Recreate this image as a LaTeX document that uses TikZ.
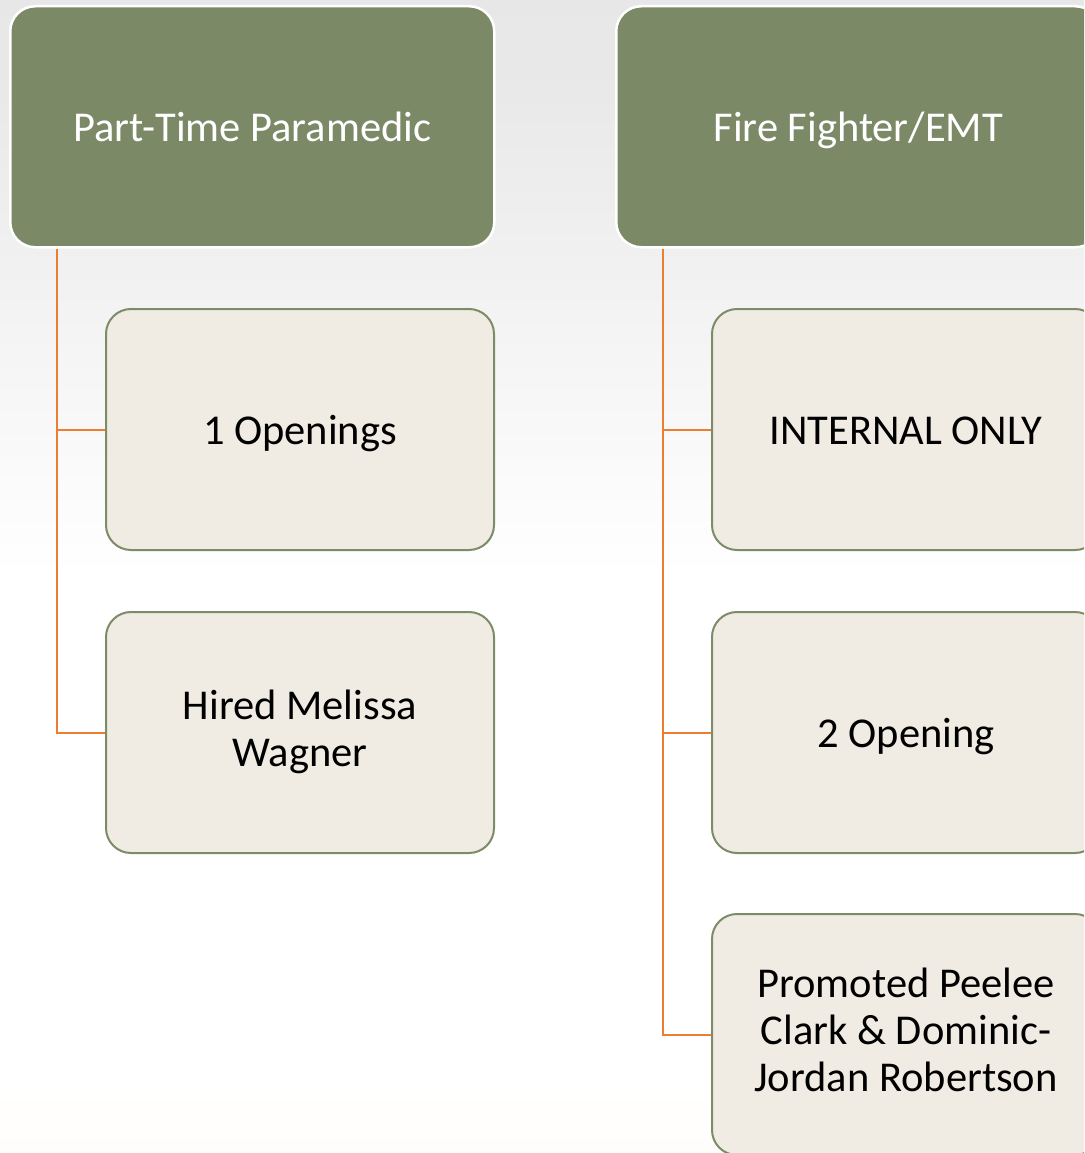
\documentclass[tikz,border=0pt]{standalone}
\usepackage{fontspec}
\setmainfont{Carlito}
\definecolor{hdrgreen}{HTML}{7B8966}
\definecolor{childfill}{HTML}{F1ECE3}
\definecolor{childborder}{HTML}{7C8B68}
\definecolor{connorange}{HTML}{ED7D31}
\definecolor{bgtop}{HTML}{E2E2E2}
\definecolor{bgmid}{HTML}{E8E8E8}
\definecolor{bgwhite}{HTML}{FFFFFF}
\definecolor{bgbottom}{HTML}{FCE8CC}
\pgfdeclareverticalshading{bgshade}{100bp}{%
  color(0bp)=(bgbottom); color(12bp)=(bgwhite!55!bgbottom); color(28bp)=(bgwhite); color(50bp)=(bgwhite); color(72bp)=(bgmid); color(100bp)=(bgtop)}
\newcommand{\mystrut}{\rule[-9pt]{0pt}{47pt}}
\tikzset{
  hdrbox/.style={draw=white, line width=2.5pt, fill=hdrgreen, rounded corners=25pt,
    minimum width=484pt, minimum height=241pt, anchor=north west, inner sep=0pt,
    text=white, font=\fontsize{42.5}{47}\selectfont, align=center,
    execute at begin node=\mystrut, execute at end node=\mystrut},
  childbox/.style={draw=childborder, line width=2pt, fill=childfill, rounded corners=25pt,
    minimum width=388pt, minimum height=241pt, anchor=north west, inner sep=0pt,
    text=black, font=\fontsize{42.5}{47}\selectfont, align=center,
    execute at begin node=\mystrut, execute at end node=\mystrut},
  conn/.style={draw=connorange, line width=2pt}
}
\begin{document}
\begin{tikzpicture}[x=1pt,y=-1pt]
\useasboundingbox (0,0) rectangle (1084,1153);
\clip (0,0) rectangle (1084,1153);
\shade[shading=bgshade] (0,0) rectangle (1084,1153);
% headers
\node[hdrbox] (hL) at (9,5) {Part-Time Paramedic};
\node[hdrbox] (hR) at (615,5) {Fire Fighter/EMT};
% children left
\node[childbox] (l1) at (105,308) {1 Openings};
\node[childbox] (l2) at (105,611) {Hired Melissa\\Wagner};
% children right
\node[childbox] (r1) at (711,308) {INTERNAL ONLY};
\node[childbox] (r2) at (711,611) {2 Opening};
\node[childbox] (r3) at (711,913) {Promoted Peelee\\Clark \& Dominic-\\Jordan Robertson};
% connectors
\coordinate (tL) at ([xshift=48pt]hL.south west);
\coordinate (tR) at ([xshift=48pt]hR.south west);
\draw[conn] (tL) |- (l1.west);
\draw[conn] (tL) |- (l2.west);
\draw[conn] (tR) |- (r1.west);
\draw[conn] (tR) |- (r2.west);
\draw[conn] (tR) |- (r3.west);
\end{tikzpicture}
\end{document}
